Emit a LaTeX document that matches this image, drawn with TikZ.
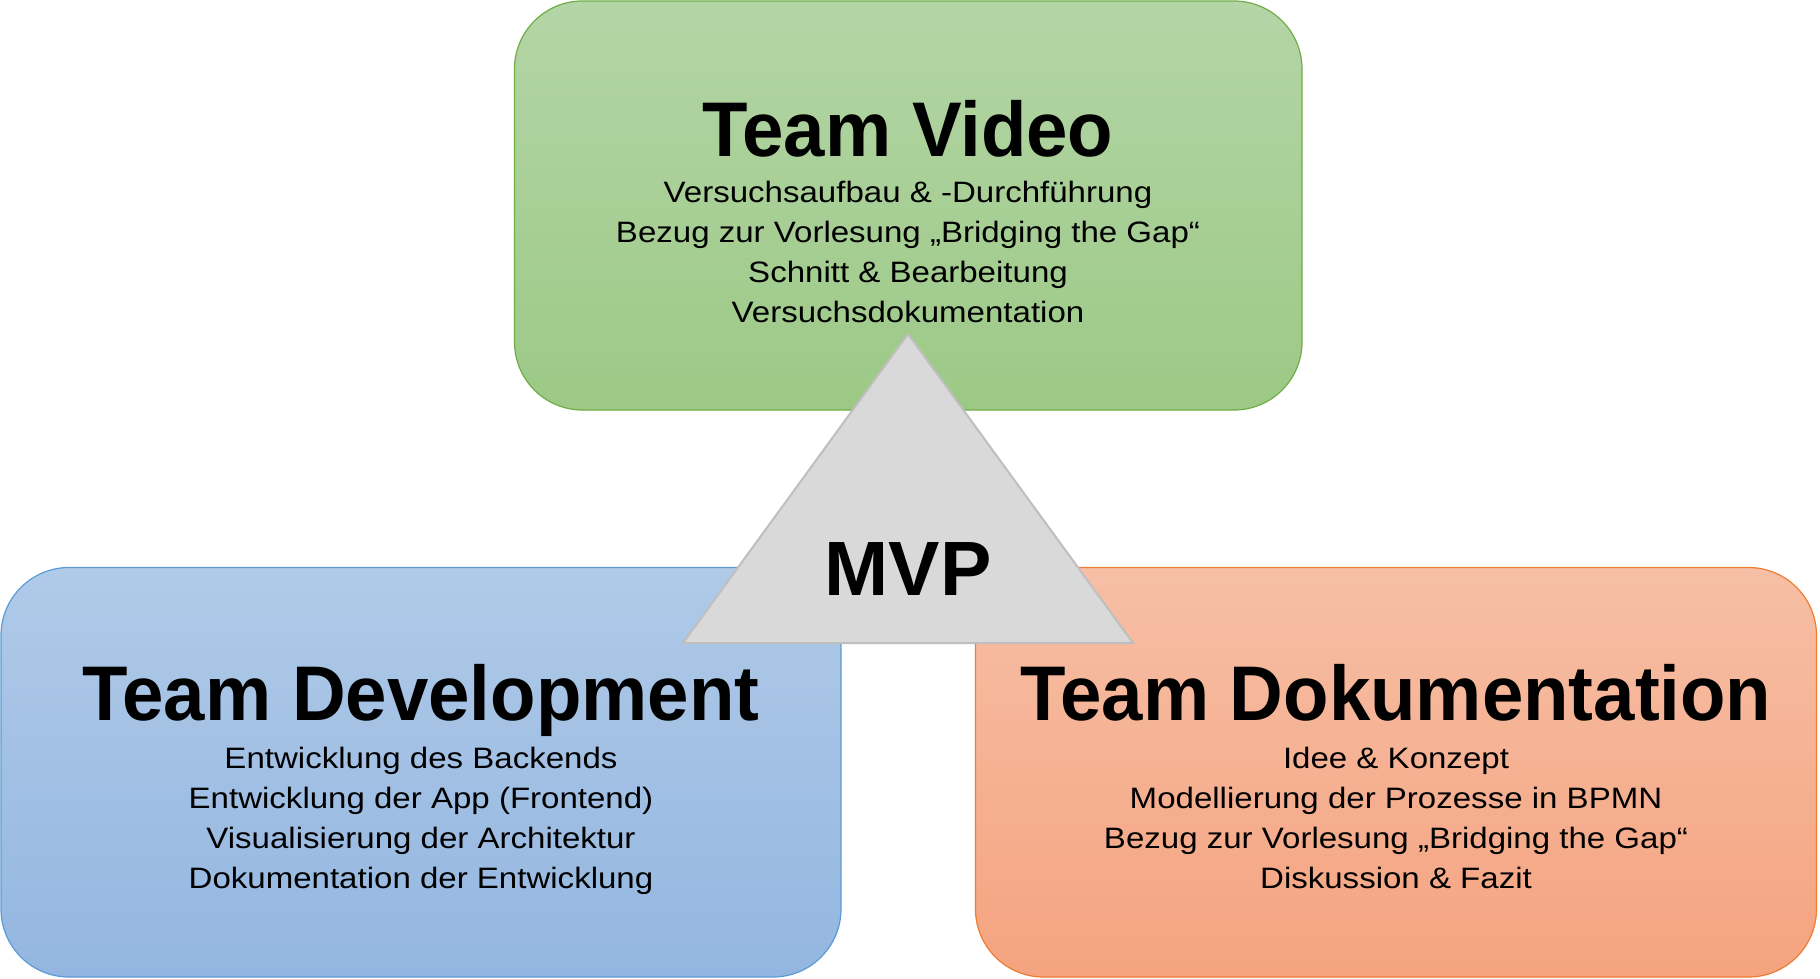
\documentclass[tikz,border=0pt]{standalone}
\usepackage{fontspec}
\setmainfont{Liberation Sans}
\newfontfamily\titlefont[FakeStretch=0.96]{Liberation Sans Bold}
\newfontfamily\mvpfont{Liberation Sans Bold}
\newfontfamily\bodyfont[FakeStretch=1.12]{Liberation Sans}
\definecolor{gTop}{HTML}{B4D5A6}
\definecolor{gBot}{HTML}{9CC986}
\definecolor{gLine}{HTML}{70AD47}
\definecolor{bTop}{HTML}{B0CAE8}
\definecolor{bBot}{HTML}{93B6E0}
\definecolor{bLine}{HTML}{5B9BD5}
\definecolor{oTop}{HTML}{F6BFA6}
\definecolor{oBot}{HTML}{F5A37F}
\definecolor{oLine}{HTML}{ED7D31}
\definecolor{triFill}{HTML}{D9D9D9}
\definecolor{triLine}{HTML}{BFBFBF}
\tikzset{
  teambox/.style={rectangle, rounded corners=68pt, inner sep=0pt, line width=1.2pt},
  titletext/.style={anchor=base, inner sep=0pt, font=\titlefont\fontsize{77.5}{80}\selectfont},
  bodytext/.style={anchor=base, inner sep=0pt, font=\bodyfont\fontsize{29.5}{40}\selectfont},
  mvptext/.style={anchor=base, inner sep=0pt, font=\mvpfont\fontsize{77}{80}\selectfont},
  tri/.style={fill=triFill, draw=triLine, line width=2pt, line join=miter}
}
\begin{document}
\begin{tikzpicture}[x=1pt,y=-1pt]
\useasboundingbox (0,0) rectangle (1820,978);
% boxes
\node[teambox, draw=gLine, top color=gTop, bottom color=gBot, minimum width=787.5pt, minimum height=409pt] (video) at (908.25,205.5) {};
\node[teambox, draw=bLine, top color=bTop, bottom color=bBot, minimum width=840pt, minimum height=409.5pt] (dev) at (421,772.25) {};
\node[teambox, draw=oLine, top color=oTop, bottom color=oBot, minimum width=841pt, minimum height=409.5pt] (doku) at (1396,772.25) {};
% Team Video
\node[titletext] (vt) at (908,156) {Team Video};
\node[bodytext] (v1) at (908,202) {Versuchsaufbau \& -Durchführung};
\node[bodytext] (v2) at (908,242) {Bezug zur Vorlesung „Bridging the Gap“};
\node[bodytext] (v3) at (908,282) {Schnitt \& Bearbeitung};
\node[bodytext] (v4) at (908,322) {Versuchsdokumentation};
% Team Development
\node[titletext] (dt) at (421,720) {Team Development};
\node[bodytext] (d1) at (421,768) {Entwicklung des Backends};
\node[bodytext] (d2) at (421,808) {Entwicklung der App (Frontend)};
\node[bodytext] (d3) at (421,848) {Visualisierung der Architektur};
\node[bodytext] (d4) at (421,888) {Dokumentation der Entwicklung};
% Team Dokumentation
\node[titletext] (kt) at (1396,720) {Team Dokumentation};
\node[bodytext] (k1) at (1396,768) {Idee \& Konzept};
\node[bodytext] (k2) at (1396,808) {Modellierung der Prozesse in BPMN};
\node[bodytext] (k3) at (1396,848) {Bezug zur Vorlesung „Bridging the Gap“};
\node[bodytext] (k4) at (1396,888) {Diskussion \& Fazit};
% MVP triangle
\coordinate (apex) at (908,334);
\coordinate (bl) at (683,643);
\coordinate (br) at (1133,643);
\draw[tri] (apex) -- (br) -- (bl) -- cycle;
\node[mvptext] (mvp) at (908,595) {MVP};
\end{tikzpicture}
\end{document}
